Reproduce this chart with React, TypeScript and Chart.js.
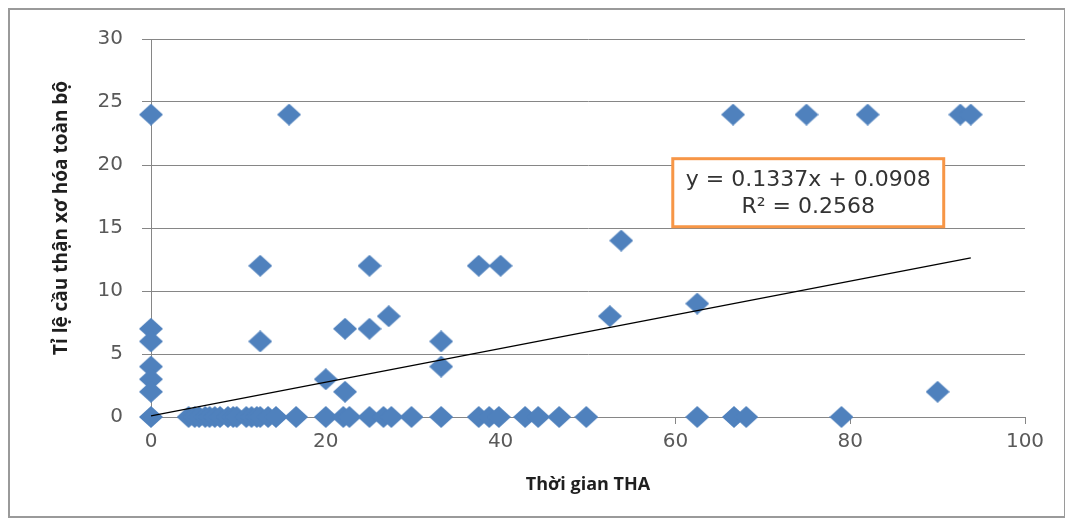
import React, { useEffect, useRef } from "react";
import { Chart, registerables } from "chart.js";

Chart.register(...registerables);

// ---- data ----
const xTickValues = [0, 20, 40, 60, 80, 100];
const yTickValues = [0, 5, 10, 15, 20, 25, 30];

const topRowX = [0, 15.8, 66.6, 75.0, 82.0, 92.6, 93.8];
const topRowY = [24, 24, 24, 24, 24, 24, 24];

const midX = [12.5, 25, 37.5, 40, 53.8, 12.5, 22.2, 25, 27.2, 33.2, 33.2, 20, 22.2, 52.5, 62.5, 90];
const midY = [12, 12, 12, 12, 14, 6, 7, 7, 8, 6, 4, 3, 2, 8, 9, 2];

const axisZeroX = [0, 0, 0, 0, 0, 0];
const axisZeroY = [7, 6, 4, 3, 2, 0];

const zeroRowX = [
  4.3, 5.0, 5.5, 6.2, 6.7, 7.3, 7.9, 8.8, 9.4, 9.8, 10.9, 11.5, 12.1, 12.5, 13.4, 14.3,
  16.6, 20, 22, 22.7, 25, 26.6, 27.5, 29.8, 33.2, 37.5, 38.7, 39.8, 42.8, 44.3, 46.7, 49.8,
  62.5, 66.7, 68.1, 79,
];
const zeroRowY = zeroRowX.map(() => 0);

const trendSlope = 0.1337;
const trendIntercept = 0.0908;
const equationLines = ["y = 0.1337x + 0.0908", "R\u00B2 = 0.2568"];
const equationBoxX = [59.7, 90.7];
const equationBoxY = [15.1, 20.5];

const xTitle = "Thời gian THA";
const yTitle = "Tỉ lệ cầu thận xơ hóa toàn bộ";

const BLUE = "#4F81BD";
const GRID = "#868686";
const ORANGE = "#F79646";

export default function App() {
  const ref = useRef<HTMLCanvasElement>(null);

  useEffect(() => {
    const canvas = ref.current;
    if (!canvas) return;

    const diamond = document.createElement("canvas");
    diamond.width = 24;
    diamond.height = 22;
    const g = diamond.getContext("2d")!;
    g.fillStyle = BLUE;
    g.beginPath();
    g.moveTo(12, 0);
    g.lineTo(24, 11);
    g.lineTo(12, 22);
    g.lineTo(0, 11);
    g.closePath();
    g.fill();

    const allX = [...topRowX, ...midX, ...axisZeroX, ...zeroRowX];
    const allY = [...topRowY, ...midY, ...axisZeroY, ...zeroRowY];
    const points = allX.map((x, i) => ({ x, y: allY[i] }));
    const xMax = Math.max(...allX);

    const overlay = {
      id: "overlay",
      afterDatasetsDraw(chart: any) {
        const { ctx, scales } = chart;
        const sx = scales.x;
        const sy = scales.y;
        const l = sx.getPixelForValue(equationBoxX[0]);
        const r = sx.getPixelForValue(equationBoxX[1]);
        const t = sy.getPixelForValue(equationBoxY[1]);
        const b = sy.getPixelForValue(equationBoxY[0]);
        ctx.save();
        ctx.fillStyle = "#ffffff";
        ctx.fillRect(l, t, r - l, b - t);
        ctx.strokeStyle = ORANGE;
        ctx.lineWidth = 3;
        ctx.strokeRect(l, t, r - l, b - t);
        ctx.fillStyle = "#333333";
        ctx.font = "22px 'DejaVu Sans'";
        ctx.textAlign = "center";
        ctx.textBaseline = "middle";
        const cx = (l + r) / 2;
        const h = b - t;
        ctx.fillText(equationLines[0], cx, t + h * 0.31);
        ctx.fillText(equationLines[1], cx, t + h * 0.71);
        ctx.restore();
      },
      afterDraw(chart: any) {
        const { ctx, chartArea } = chart;
        ctx.save();
        ctx.translate(54, (chartArea.top + chartArea.bottom) / 2 - 10);
        ctx.rotate(-Math.PI / 2);
        ctx.fillStyle = "#1f1f1f";
        ctx.font = "bold 19px 'Open Sans'";
        ctx.textAlign = "center";
        ctx.textBaseline = "middle";
        ctx.fillText(yTitle, 0, 0);
        ctx.restore();
      },
    };

    const chart = new Chart(canvas, {
      type: "scatter",
      data: {
        datasets: [
          {
            label: "Trend",
            data: [
              { x: 0, y: trendIntercept },
              { x: xMax, y: trendSlope * xMax + trendIntercept },
            ],
            showLine: true,
            borderColor: "#000000",
            borderWidth: 1.4,
            pointRadius: 0,
            order: 0,
            clip: false,
          } as any,
          {
            label: "Data",
            data: points,
            pointStyle: diamond,
            pointRadius: 11,
            backgroundColor: BLUE,
            borderWidth: 0,
            order: 1,
            clip: false,
          } as any,
        ],
      },
      options: {
        animation: false,
        responsive: false,
        devicePixelRatio: 1,
        layout: { padding: { left: 0, right: 41, top: 25, bottom: 22 } },
        plugins: { legend: { display: false }, tooltip: { enabled: false } },
        scales: {
          x: {
            type: "linear",
            min: 0,
            max: 100,
            afterBuildTicks: (s: any) => {
              s.ticks = xTickValues.map((v) => ({ value: v }));
            },
            afterFit: (s: any) => {
              s.height = 79;
            },
            grid: { drawOnChartArea: false, drawTicks: true, tickLength: 7, color: GRID },
            border: { display: true, color: GRID, width: 1 },
            ticks: {
              padding: 6,
              color: "#595959",
              font: { family: "'DejaVu Sans'", size: 20 },
            },
            title: {
              display: true,
              text: xTitle,
              color: "#1f1f1f",
              font: { family: "'Open Sans'", size: 18, weight: "bold" },
              padding: { top: 4, bottom: 0 },
            },
          },
          y: {
            type: "linear",
            min: 0,
            max: 30,
            afterBuildTicks: (s: any) => {
              s.ticks = yTickValues.map((v) => ({ value: v }));
            },
            afterFit: (s: any) => {
              s.width = 143;
            },
            grid: { drawTicks: true, tickLength: 9, color: GRID },
            border: { display: true, color: GRID, width: 1 },
            ticks: {
              padding: 19,
              color: "#595959",
              font: { family: "'DejaVu Sans'", size: 20 },
            },
          },
        },
      },
      plugins: [overlay],
    });

    return () => chart.destroy();
  }, []);

  return (
    <div style={{ position: "relative", width: 1058, height: 510 }}>
      <canvas
        ref={ref}
        width={1058}
        height={510}
        style={{ position: "absolute", left: 0, top: 0, width: 1058, height: 510 }}
      />
      <div
        style={{
          position: "absolute",
          left: 0,
          top: 0,
          width: 1058,
          height: 510,
          boxSizing: "border-box",
          border: "2px solid #9a9a9a",
          pointerEvents: "none",
        }}
      />
    </div>
  );
}
